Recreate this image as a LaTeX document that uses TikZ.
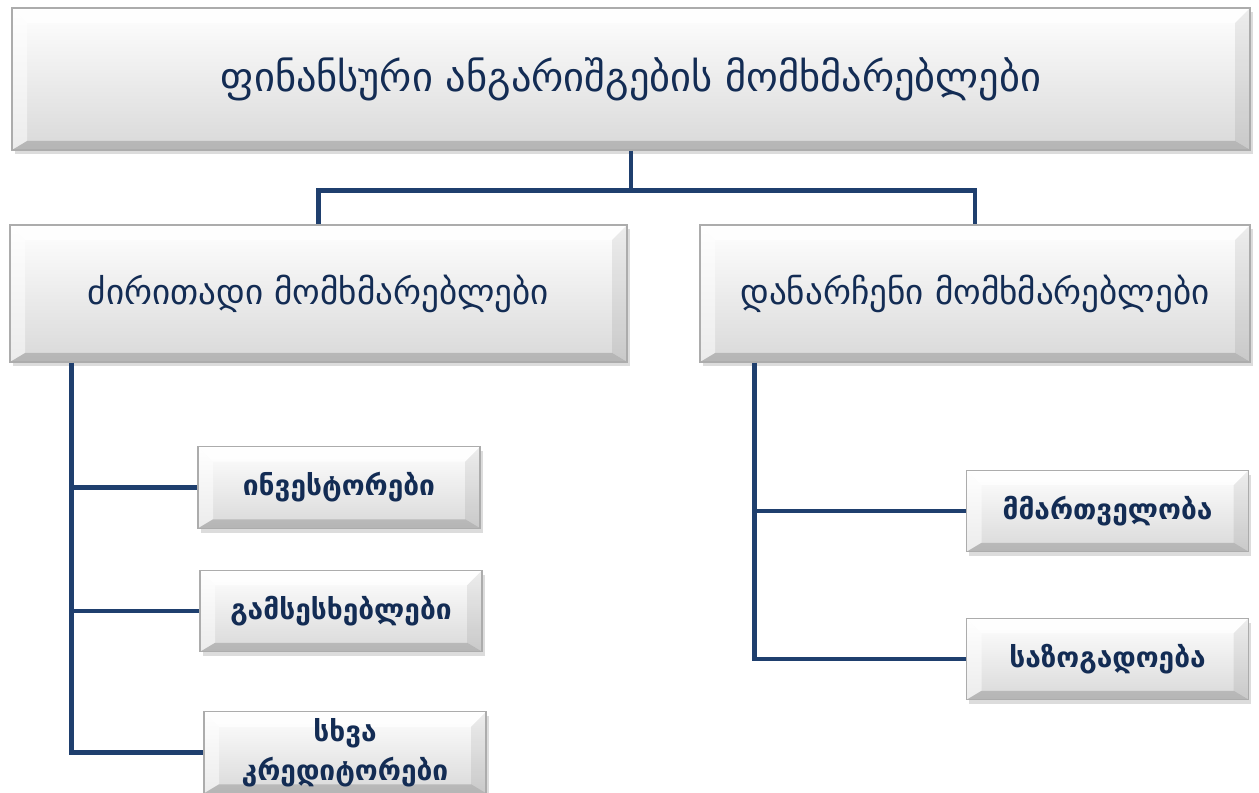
\documentclass[tikz,border=0pt]{standalone}
\usepackage{fontspec}
\setmainfont{DejaVu Sans}
\usetikzlibrary{calc,shadows}
\definecolor{navy}{HTML}{132C54}
\definecolor{linkblue}{HTML}{1F3F6E}
\newcommand{\bv}{0.3cm}

\begin{document}
\begin{tikzpicture}[
  tree/.style={draw=linkblue,line width=2.8pt},
  bevelbox/.style={draw=gray!65,line width=0.6pt,top color=white,bottom color=gray!30,
    text=navy,align=center,
    drop shadow={shadow xshift=1.5pt,shadow yshift=-2.5pt,opacity=0.28},
    path picture={
      \coordinate (q1) at (path picture bounding box.north west);
      \coordinate (q2) at (path picture bounding box.north east);
      \coordinate (q3) at (path picture bounding box.south east);
      \coordinate (q4) at (path picture bounding box.south west);
      \coordinate (r1) at ($(q1)+(\bv,-\bv)$);
      \coordinate (r2) at ($(q2)+(-\bv,-\bv)$);
      \coordinate (r3) at ($(q3)+(-\bv,0.6*\bv)$);
      \coordinate (r4) at ($(q4)+(\bv,0.6*\bv)$);
      \fill[white,opacity=0.8] (q1) -- (q2) -- (r2) -- (r1) -- cycle;
      \fill[white,opacity=0.5] (q1) -- (r1) -- (r4) -- (q4) -- cycle;
      \fill[black,opacity=0.07] (q2) -- (q3) -- (r3) -- (r2) -- cycle;
      \fill[black,opacity=0.16] (q4) -- (r4) -- (r3) -- (q3) -- cycle;
    }},
  headbox/.style={bevelbox,minimum width=24.76cm,minimum height=2.84cm,font=\fontsize{23}{27}\selectfont},
  groupbox/.style={bevelbox,minimum height=2.74cm,font=\fontsize{20}{24}\selectfont},
  leafbox/.style={bevelbox,minimum width=5.64cm,minimum height=1.63cm,
    font=\bfseries\fontsize{16}{22}\selectfont}
]
  \useasboundingbox (0,0) rectangle (25.18,-15.86);

  \node[headbox] (users) at (12.62,-1.58) {ფინანსური ანგარიშგების მომხმარებლები};

  \node[groupbox,minimum width=12.34cm] (main) at (6.37,-5.87) {ძირითადი მომხმარებლები};
  \node[groupbox,minimum width=11.00cm] (other) at (19.50,-5.87) {დანარჩენი მომხმარებლები};

  \node[leafbox] (invest) at (6.78,-9.75) {ინვესტორები};
  \node[leafbox] (lend) at (6.82,-12.22) {გამსესხებლები};
  \node[leafbox] (credit) at (6.90,-15.05) {სხვა\\კრედიტორები};

  \node[leafbox] (gov) at (22.15,-10.22) {მმართველობა};
  \node[leafbox] (pub) at (22.15,-13.18) {საზოგადოება};

  \coordinate (split) at ($(users.south)+(0,-0.8)$);
  \coordinate (ltrunk) at ($(main.south west)+(1.24,0)$);
  \coordinate (rtrunk) at ($(other.south west)+(1.10,0)$);

  \draw[tree] (users.south) -- (split);
  \draw[tree] (split) -| (main.north);
  \draw[tree] (split) -| (other.north);

  \draw[tree] (ltrunk) |- (credit.west);
  \draw[tree] (ltrunk |- invest.west) -- (invest.west);
  \draw[tree] (ltrunk |- lend.west) -- (lend.west);

  \draw[tree] (rtrunk) |- (pub.west);
  \draw[tree] (rtrunk |- gov.west) -- (gov.west);
\end{tikzpicture}
\end{document}
